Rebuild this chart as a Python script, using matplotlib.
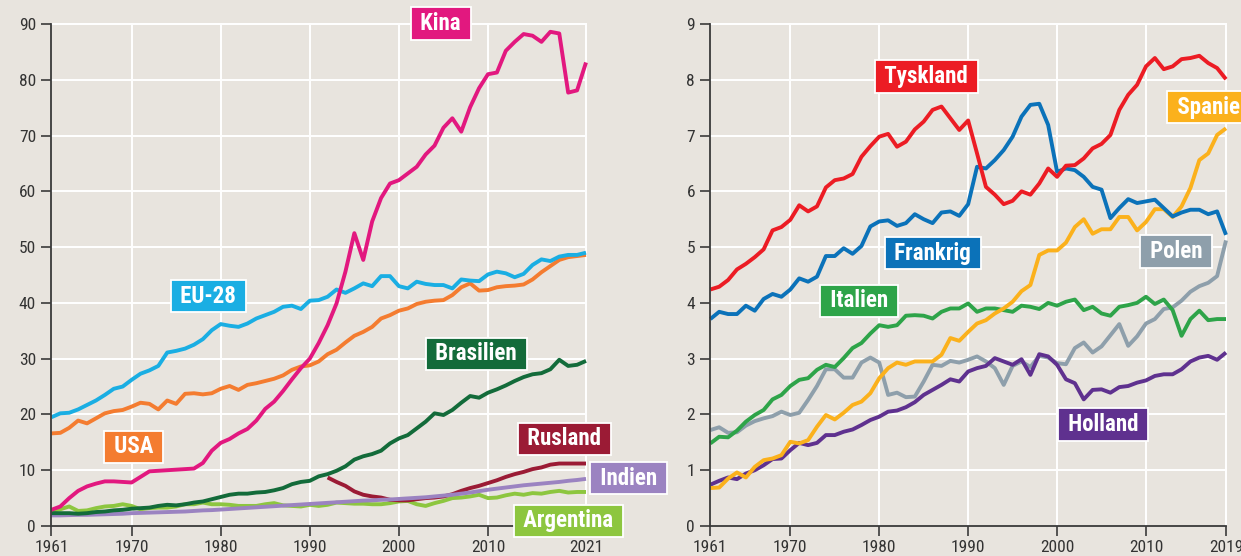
import matplotlib
matplotlib.use("Agg")
import matplotlib.pyplot as plt
from matplotlib import font_manager as fm

# ---------------- data ----------------
years_left = list(range(1961, 2022))
years_rusland = list(range(1992, 2022))
years_right = list(range(1961, 2020))

kina = [2.9, 3.5, 5.0, 6.3, 7.1, 7.6, 8.0, 8.0, 7.9, 7.8,
        8.8, 9.8, 9.9, 10.0, 10.1, 10.2, 10.3, 11.3, 13.5, 14.9,
        15.6, 16.6, 17.4, 18.9, 21.0, 22.3, 24.2, 26.3, 28.3, 30.0,
        32.8, 36.0, 39.9, 45.6, 52.5, 47.7, 54.6, 58.8, 61.4, 62.0,
        63.2, 64.4, 66.6, 68.2, 71.4, 73.1, 70.7, 75.1, 78.5, 81.0,
        81.3, 85.2, 86.8, 88.2, 87.9, 86.8, 88.6, 88.3, 77.7, 78.1,
        83.1]
eu28 = [19.5, 20.2, 20.3, 20.9, 21.7, 22.5, 23.5, 24.6, 25.0, 26.2,
        27.3, 27.9, 28.7, 31.1, 31.4, 31.8, 32.5, 33.5, 35.1, 36.2,
        35.9, 35.7, 36.3, 37.2, 37.8, 38.4, 39.3, 39.5, 38.9, 40.4,
        40.5, 41.1, 42.4, 41.8, 42.6, 43.5, 43.0, 44.8, 44.8, 43.0,
        42.6, 43.8, 43.4, 43.2, 43.2, 42.6, 44.2, 44.0, 43.9, 45.1,
        45.6, 45.3, 44.6, 45.2, 46.8, 47.8, 47.5, 48.3, 48.6, 48.6,
        49.0]
usa = [16.6, 16.7, 17.6, 18.9, 18.4, 19.3, 20.2, 20.6, 20.8, 21.4,
       22.1, 21.9, 20.9, 22.5, 21.9, 23.7, 23.8, 23.6, 23.8, 24.6,
       25.1, 24.4, 25.3, 25.6, 26.0, 26.4, 27.0, 28.0, 28.6, 28.8,
       29.5, 30.8, 31.6, 32.9, 34.1, 34.8, 35.7, 37.2, 37.8, 38.6,
       39.0, 39.8, 40.2, 40.4, 40.5, 41.4, 42.8, 43.5, 42.2, 42.3,
       42.8, 43.0, 43.1, 43.3, 44.2, 45.5, 46.6, 47.7, 48.2, 48.4,
       48.6]
brasilien = [2.3, 2.3, 2.3, 2.2, 2.3, 2.5, 2.6, 2.8, 2.9, 3.1,
             3.2, 3.3, 3.6, 3.8, 3.7, 3.9, 4.2, 4.4, 4.8, 5.2,
             5.6, 5.8, 5.8, 6.0, 6.1, 6.4, 6.8, 7.5, 7.9, 8.1,
             8.9, 9.3, 9.9, 10.7, 11.9, 12.5, 12.9, 13.5, 14.8, 15.7,
             16.3, 17.5, 18.7, 20.2, 19.9, 20.8, 22.1, 23.3, 23.0, 23.9,
             24.5, 25.2, 26.0, 26.7, 27.2, 27.4, 28.1, 29.8, 28.7, 28.9,
             29.6]
rusland = [8.7, 7.9, 7.2, 6.2, 5.6, 5.3, 5.1, 4.7, 4.6, 4.6,
           4.8, 5.0, 5.1, 5.3, 5.7, 6.3, 6.8, 7.2, 7.7, 8.2,
           8.8, 9.3, 9.7, 10.2, 10.5, 11.0, 11.2, 11.2, 11.2, 11.2]
indien = [1.9, 1.9, 1.95, 2.0, 2.0, 2.05, 2.1, 2.15, 2.2, 2.3,
          2.35, 2.4, 2.45, 2.5, 2.55, 2.6, 2.7, 2.8, 2.85, 2.95,
          3.05, 3.15, 3.25, 3.35, 3.45, 3.55, 3.65, 3.75, 3.85, 3.95,
          4.05, 4.15, 4.25, 4.35, 4.45, 4.55, 4.6, 4.7, 4.75, 4.85,
          4.95, 5.05, 5.15, 5.3, 5.45, 5.6, 5.8, 6.0, 6.25, 6.5,
          6.7, 6.9, 7.1, 7.3, 7.45, 7.6, 7.75, 7.9, 8.1, 8.25,
          8.45]
argentina = [2.7, 3.0, 3.5, 2.7, 2.8, 3.2, 3.5, 3.6, 3.9, 3.6,
             3.0, 3.2, 3.3, 3.3, 3.5, 3.9, 3.9, 4.2, 3.9, 3.9,
             3.8, 3.6, 3.6, 3.6, 3.9, 4.1, 3.7, 3.6, 3.5, 3.8,
             3.6, 3.8, 4.2, 4.1, 4.0, 4.0, 3.9, 3.9, 4.1, 4.4,
             4.5, 3.9, 3.6, 4.1, 4.5, 5.0, 5.1, 5.3, 5.6, 5.0,
             5.1, 5.5, 5.8, 5.6, 5.9, 5.8, 6.1, 6.3, 6.0, 6.1,
             6.1]

tyskland = [4.24, 4.29, 4.41, 4.60, 4.70, 4.82, 4.96, 5.30, 5.36, 5.49,
            5.75, 5.64, 5.73, 6.07, 6.20, 6.23, 6.31, 6.62, 6.81, 6.98,
            7.03, 6.80, 6.89, 7.11, 7.25, 7.46, 7.52, 7.31, 7.10, 7.27,
            6.68, 6.08, 5.94, 5.77, 5.83, 6.00, 5.94, 6.14, 6.41, 6.26,
            6.46, 6.47, 6.59, 6.77, 6.85, 7.01, 7.46, 7.73, 7.91, 8.24,
            8.39, 8.19, 8.24, 8.37, 8.39, 8.43, 8.30, 8.21, 8.01]
frankrig = [3.71, 3.84, 3.80, 3.80, 3.95, 3.86, 4.07, 4.16, 4.11, 4.24,
            4.44, 4.38, 4.47, 4.84, 4.84, 4.98, 4.88, 5.02, 5.37, 5.46,
            5.48, 5.38, 5.43, 5.59, 5.50, 5.43, 5.62, 5.64, 5.56, 5.77,
            6.44, 6.41, 6.56, 6.74, 6.98, 7.34, 7.55, 7.57, 7.19, 6.35,
            6.41, 6.38, 6.26, 6.08, 6.03, 5.52, 5.70, 5.86, 5.79, 5.82,
            5.85, 5.70, 5.55, 5.62, 5.67, 5.67, 5.59, 5.64, 5.22]
spanien = [0.68, 0.69, 0.85, 0.96, 0.87, 1.06, 1.18, 1.21, 1.27, 1.51,
           1.48, 1.54, 1.78, 1.99, 1.91, 2.03, 2.17, 2.23, 2.38, 2.65,
           2.83, 2.93, 2.89, 2.95, 2.95, 2.95, 3.07, 3.37, 3.32, 3.48,
           3.63, 3.69, 3.81, 3.90, 4.02, 4.21, 4.32, 4.86, 4.94, 4.94,
           5.08, 5.36, 5.50, 5.24, 5.32, 5.32, 5.54, 5.54, 5.30, 5.45,
           5.68, 5.68, 5.54, 5.73, 6.06, 6.56, 6.68, 7.01, 7.13]
italien = [1.48, 1.60, 1.59, 1.71, 1.87, 1.99, 2.08, 2.27, 2.35, 2.51,
           2.62, 2.65, 2.80, 2.89, 2.85, 3.01, 3.19, 3.28, 3.45, 3.60,
           3.57, 3.60, 3.77, 3.78, 3.77, 3.72, 3.84, 3.90, 3.90, 3.99,
           3.84, 3.90, 3.90, 3.87, 3.84, 3.95, 3.93, 3.89, 4.00, 3.95,
           4.02, 4.06, 3.87, 3.93, 3.81, 3.77, 3.93, 3.96, 4.00, 4.11,
           3.98, 4.06, 3.87, 3.41, 3.71, 3.86, 3.69, 3.71, 3.71]
polen = [1.72, 1.77, 1.67, 1.68, 1.80, 1.88, 1.93, 1.97, 2.05, 1.99,
         2.03, 2.26, 2.51, 2.81, 2.81, 2.66, 2.66, 2.93, 3.02, 2.93,
         2.35, 2.39, 2.31, 2.32, 2.59, 2.89, 2.87, 2.96, 2.93, 2.98,
         3.04, 2.95, 2.83, 2.53, 2.87, 2.95, 2.85, 3.05, 3.02, 2.92,
         2.90, 3.19, 3.29, 3.11, 3.22, 3.42, 3.62, 3.23, 3.40, 3.63,
         3.71, 3.89, 3.92, 4.04, 4.20, 4.30, 4.36, 4.48, 5.12]
holland = [0.74, 0.81, 0.87, 0.84, 0.94, 1.00, 1.09, 1.20, 1.21, 1.36,
           1.49, 1.45, 1.49, 1.63, 1.63, 1.69, 1.73, 1.81, 1.90, 1.96,
           2.05, 2.07, 2.13, 2.22, 2.35, 2.44, 2.53, 2.63, 2.59, 2.77,
           2.83, 2.87, 3.01, 2.95, 2.89, 2.99, 2.71, 3.08, 3.04, 2.89,
           2.63, 2.56, 2.27, 2.44, 2.45, 2.39, 2.49, 2.51, 2.57, 2.61,
           2.69, 2.72, 2.72, 2.81, 2.95, 3.02, 3.05, 2.98, 3.11]

left_yticks = [0, 10, 20, 30, 40, 50, 60, 70, 80, 90]
left_xticks = [1961, 1970, 1980, 1990, 2000, 2010, 2021]
right_yticks = [0, 1, 2, 3, 4, 5, 6, 7, 8, 9]
right_xticks = [1961, 1970, 1980, 1990, 2000, 2010, 2019]

# ---------------- font choice (prefer a narrow / condensed sans) ----------------
entries = fm.fontManager.ttflist
names = {f.name for f in entries}
FAMILY, STRETCH, CONDENSED = None, "normal", False
for n in ["Liberation Sans Narrow", "Arial Narrow", "Roboto Condensed",
          "Noto Sans Condensed", "Open Sans Condensed", "DejaVu Sans Condensed",
          "Noto Sans Display Condensed"]:
    if n in names:
        FAMILY, CONDENSED = n, True
        break
if FAMILY is None:
    for f in entries:
        st = f.stretch if isinstance(f.stretch, str) else ""
        if st in ("condensed", "semi-condensed") and any(
                k in f.name for k in ("Sans", "Roboto", "Lato", "Inter")) \
                and "Mono" not in f.name and "CJK" not in f.name:
            FAMILY, STRETCH, CONDENSED = f.name, st, True
            break
if FAMILY is None:
    FAMILY = "Liberation Sans" if "Liberation Sans" in names else "DejaVu Sans"

LABEL_FS = 16.5 if CONDENSED else 14
TICK_FS = 12.5 if CONDENSED else 11.5

plt.rcParams["font.family"] = [FAMILY, "DejaVu Sans"]
plt.rcParams["font.stretch"] = STRETCH

# ---------------- style ----------------
BG = "#E8E4DE"
AXC = "#3a3a3a"

W, H = 1241, 556
fig = plt.figure(figsize=(W / 100, H / 100), dpi=100, facecolor=BG)


def px_axes(x0, x1, y_top, y_bot):
    return fig.add_axes([x0 / W, 1 - y_bot / H, (x1 - x0) / W, (y_bot - y_top) / H])


axL = px_axes(51.4, 586, 24, 526)
axR = px_axes(710.3, 1226, 24, 526)


def style(ax, xticks, yticks):
    ax.set_facecolor(BG)
    ax.set_xlim(xticks[0], xticks[-1])
    ax.set_ylim(yticks[0], yticks[-1])
    for s in ("top", "right"):
        ax.spines[s].set_visible(False)
    for s in ("left", "bottom"):
        ax.spines[s].set_color(AXC)
        ax.spines[s].set_linewidth(1.3)
        ax.spines[s].set_zorder(5)
    ax.set_xticks(xticks)
    ax.set_yticks(yticks)
    ax.tick_params(axis="both", direction="out", length=7, width=1.2,
                   color=AXC, labelsize=TICK_FS, labelcolor="#333333")
    ax.tick_params(axis="y", pad=4)
    ax.tick_params(axis="x", pad=3)
    for y in yticks[1:]:
        ax.axhline(y, color="white", lw=1.4, zorder=1, clip_on=False)
    for x in xticks[1:]:
        ax.axvline(x, color="white", lw=1.4, zorder=1, clip_on=False)


style(axL, left_xticks, left_yticks)
style(axR, right_xticks, right_yticks)

LW = 2.8


def line(ax, x, y, c, z=3):
    ax.plot(x, y, color=c, lw=LW, zorder=z, solid_joinstyle="round",
            solid_capstyle="butt", clip_on=False)


def label(ax, x, y, text, c, ha="center"):
    ax.text(x, y, " " + text + " ", ha=ha, va="center", color="white",
            fontsize=LABEL_FS, fontweight="bold", zorder=10, clip_on=False,
            bbox=dict(boxstyle="square,pad=0.2", fc=c, ec="white", lw=1.3))


C = dict(kina="#E2187F", eu="#1AAEE3", usa="#F47C30", bra="#136B3A",
         rus="#9B1B35", ind="#9B83C1", arg="#8DC63F",
         tys="#EC1C24", fra="#0B72B9", spa="#FBB11C", ita="#2EA449",
         pol="#8E9FAB", hol="#5F318F")

line(axL, years_left, argentina, C["arg"], 3)
line(axL, years_rusland, rusland, C["rus"], 3.1)
line(axL, years_left, indien, C["ind"], 3.2)
line(axL, years_left, brasilien, C["bra"], 3.3)
line(axL, years_left, usa, C["usa"], 3.4)
line(axL, years_left, eu28, C["eu"], 3.5)
line(axL, years_left, kina, C["kina"], 3.6)

label(axL, 2004.7, 90.1, "Kina", C["kina"])
label(axL, 1978.6, 41.2, "EU-28", C["eu"])
label(axL, 1970.2, 14.2, "USA", C["usa"])
label(axL, 2008.7, 30.9, "Brasilien", C["bra"])
label(axL, 2018.6, 15.6, "Rusland", C["rus"])
label(axL, 2025.8, 8.6, "Indien", C["ind"])
label(axL, 2019.05, 0.9, "Argentina", C["arg"])

line(axR, years_right, polen, C["pol"], 3)
line(axR, years_right, holland, C["hol"], 3.1)
line(axR, years_right, italien, C["ita"], 3.2)
line(axR, years_right, spanien, C["spa"], 3.3)
line(axR, years_right, frankrig, C["fra"], 3.4)
line(axR, years_right, tyskland, C["tys"], 3.5)

label(axR, 1985.3, 8.06, "Tyskland", C["tys"])
label(axR, 1986.0, 4.89, "Frankrig", C["fra"])
label(axR, 1977.7, 4.04, "Italien", C["ita"])
label(axR, 2005.2, 1.82, "Holland", C["hol"])
label(axR, 2013.4, 4.92, "Polen", C["pol"])
label(axR, 2012.9, 7.51, "Spanien", C["spa"], ha="left")

fig.savefig("out.png", dpi=100, facecolor=BG)
